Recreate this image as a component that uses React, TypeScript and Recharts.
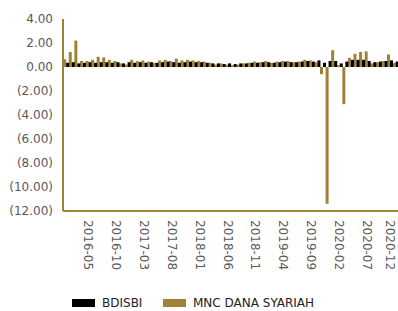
import React from "react";
import { BarChart, Bar, XAxis, YAxis, Legend } from "recharts";

const MONTHS = [
  "2016-01", "2016-02", "2016-03", "2016-04", "2016-05", "2016-06", "2016-07", "2016-08", "2016-09", "2016-10", "2016-11", "2016-12",
  "2017-01", "2017-02", "2017-03", "2017-04", "2017-05", "2017-06", "2017-07", "2017-08", "2017-09", "2017-10", "2017-11", "2017-12",
  "2018-01", "2018-02", "2018-03", "2018-04", "2018-05", "2018-06", "2018-07", "2018-08", "2018-09", "2018-10", "2018-11", "2018-12",
  "2019-01", "2019-02", "2019-03", "2019-04", "2019-05", "2019-06", "2019-07", "2019-08", "2019-09", "2019-10", "2019-11", "2019-12",
  "2020-01", "2020-02", "2020-03", "2020-04", "2020-05", "2020-06", "2020-07", "2020-08", "2020-09", "2020-10", "2020-11", "2020-12",
];

const BDISBI = [
  0.35, 0.4, 0.3, 0.35, 0.4, 0.35, 0.4, 0.4, 0.35, 0.4, 0.3, 0.4,
  0.35, 0.4, 0.35, 0.4, 0.35, 0.4, 0.45, 0.4, 0.35, 0.4, 0.45, 0.4,
  0.4, 0.35, 0.3, 0.3, 0.25, 0.3, 0.25, 0.3, 0.3, 0.35, 0.35, 0.4,
  0.4, 0.35, 0.4, 0.45, 0.4, 0.4, 0.45, 0.5, 0.45, 0.55, 0.35, 0.5,
  0.5, 0.3, 0.45, 0.6, 0.6, 0.6, 0.5, 0.4, 0.45, 0.5, 0.55, 0.45,
];

const MNC = [
  0.65, 1.25, 2.2, 0.5, 0.5, 0.6, 0.85, 0.8, 0.6, 0.5, 0.3, 0.2,
  0.6, 0.5, 0.55, 0.45, 0.35, 0.55, 0.6, 0.5, 0.7, 0.55, 0.6, 0.55,
  0.5, 0.45, 0.35, 0.2, 0.3, 0.2, 0.15, 0.2, 0.3, 0.35, 0.45, 0.4,
  0.5, 0.35, 0.45, 0.5, 0.5, 0.4, 0.45, 0.6, 0.55, 0.4, -0.6, -11.4,
  1.4, 0.15, -3.1, 0.75, 1.1, 1.25, 1.3, 0.3, 0.4, 0.5, 1.05, 0.35,
];

const TICK_LABELS = [
  "2016-05", "2016-10", "2017-03", "2017-08", "2018-01", "2018-06",
  "2018-11", "2019-04", "2019-09", "2020-02", "2020-07", "2020-12",
];

const Y_TICKS = [-12, -10, -8, -6, -4, -2, 0, 2, 4];

const GOLD = "#9f8236";
const FONT = "DejaVu Sans, sans-serif";

const data = MONTHS.map((m, i) => ({ month: m, bdisbi: BDISBI[i], mnc: MNC[i] }));

const fmtY = (v: number) => (v < 0 ? `(${Math.abs(v).toFixed(2)})` : v.toFixed(2));

function MonthTick({ x, y, payload }: any) {
  if (!TICK_LABELS.includes(payload.value)) return null;
  // keep the last label inside the picture
  const tx = Math.min(x, 390);
  return (
    <text
      x={tx}
      y={y + 1}
      transform={`rotate(90, ${tx}, ${y + 1})`}
      textAnchor="start"
      dy="0.35em"
      fontSize={12}
      fontFamily={FONT}
      fill="#595959"
    >
      {payload.value}
    </text>
  );
}

function ChartLegend() {
  const items = [
    { name: "BDISBI", color: "#000000", left: 72 },
    { name: "MNC DANA SYARIAH", color: GOLD, left: 163 },
  ];
  return (
    <div style={{ position: "relative", height: 24, fontFamily: FONT, fontSize: 12, color: "#222" }}>
      {items.map((it) => (
        <div key={it.name} style={{ position: "absolute", left: it.left, top: 8, height: 16, display: "flex", alignItems: "center" }}>
          <span style={{ display: "inline-block", width: 23, height: 8, background: it.color, marginRight: 7 }} />
          <span style={{ lineHeight: "16px", whiteSpace: "nowrap" }}>{it.name}</span>
        </div>
      ))}
    </div>
  );
}

export default function App() {
  return (
    <div style={{ position: "absolute", left: 0, top: 0, width: 398, height: 311, background: "#fff" }}>
      <BarChart
        width={398}
        height={311}
        data={data}
        margin={{ top: 19, right: 0, left: 0, bottom: 0 }}
        barCategoryGap="3%"
        barGap={0}
      >
        <XAxis
          dataKey="month"
          interval={0}
          tickLine={false}
          height={76}
          axisLine={{ stroke: GOLD, strokeWidth: 2 }}
          tick={<MonthTick />}
        />
        <YAxis
          domain={[-12, 4]}
          ticks={Y_TICKS}
          width={63}
          tickLine={false}
          tickMargin={4}
          tickFormatter={fmtY}
          axisLine={{ stroke: GOLD, strokeWidth: 2 }}
          tick={{ fontSize: 12, fontFamily: FONT, fill: "#595959" }}
          allowDataOverflow
        />
        <Legend verticalAlign="bottom" content={<ChartLegend />} wrapperStyle={{ left: 0, width: 398 }} />
        <Bar dataKey="mnc" fill={GOLD} isAnimationActive={false} />
        <Bar dataKey="bdisbi" fill="#000000" isAnimationActive={false} />
      </BarChart>
    </div>
  );
}
